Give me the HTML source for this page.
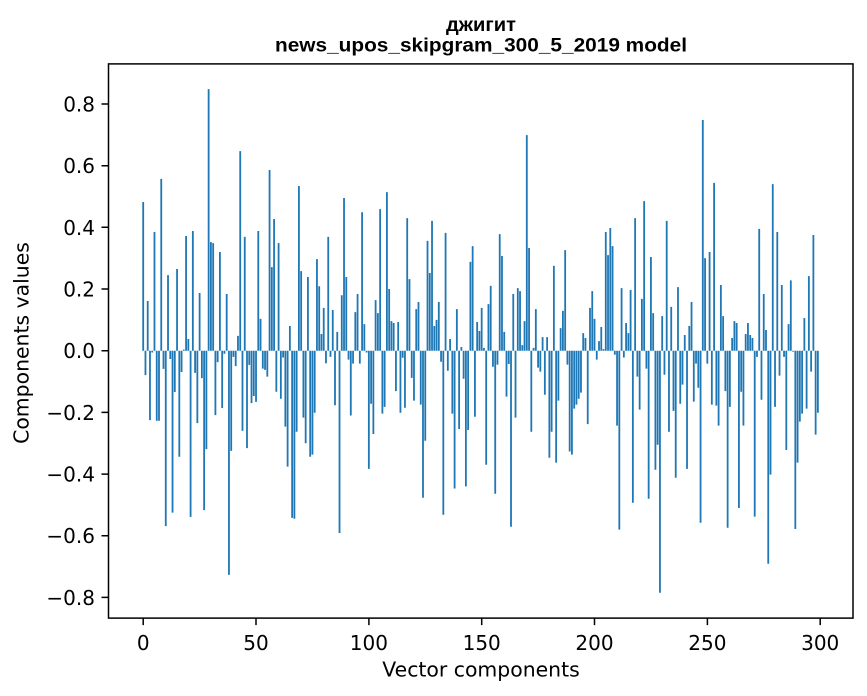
<!DOCTYPE html>
<html><head><meta charset="utf-8"><style>html,body{margin:0;padding:0;background:#fff}svg{display:block}</style></head>
<body>
<svg width="867" height="696" viewBox="0 0 867 696" xmlns="http://www.w3.org/2000/svg">
<rect width="867" height="696" fill="#fff"/>
<g transform="translate(143.2,350.7) scale(2.2565,-308.4)">
<path fill="none" stroke="#1f77b4" stroke-width="0.8" d="M0 0V0.482M1 0V-0.079M2 0V0.161M3 0V-0.225M4 0V-0.006M5 0V0.385M6 0V-0.227M7 0V-0.227M8 0V0.557M9 0V-0.059M10 0V-0.569M11 0V0.245M12 0V-0.027M13 0V-0.525M14 0V-0.134M15 0V0.265M16 0V-0.344M17 0V-0.069M18 0V0.004M19 0V0.372M20 0V0.038M21 0V-0.539M22 0V0.388M23 0V-0.072M24 0V-0.235M25 0V0.187M26 0V-0.089M27 0V-0.517M28 0V-0.319M29 0V0.848M30 0V0.352M31 0V0.349M32 0V-0.209M33 0V-0.037M34 0V0.32M35 0V-0.186M36 0V-0.01M37 0V0.184M38 0V-0.727M39 0V-0.325M40 0V-0.02M41 0V-0.05M42 0V0.048M43 0V0.647M44 0V-0.26M45 0V0.369M46 0V-0.316M47 0V-0.046M48 0V-0.17M49 0V-0.147M50 0V-0.166M51 0V0.388M52 0V0.103M53 0V-0.058M54 0V-0.062M55 0V-0.084M56 0V0.586M57 0V0.271M58 0V0.427M59 0V-0.133M60 0V0.349M61 0V-0.156M62 0V-0.022M63 0V-0.246M64 0V-0.376M65 0V0.08M66 0V-0.542M67 0V-0.545M68 0V-0.263M69 0V0.534M70 0V0.258M71 0V-0.217M72 0V-0.3M73 0V0.239M74 0V-0.344M75 0V-0.337M76 0V-0.201M77 0V0.297M78 0V0.209M79 0V0.054M80 0V0.139M81 0V-0.041M82 0V0.369M83 0V-0.02M84 0V0.132M85 0V-0.177M86 0V0.061M87 0V-0.591M88 0V0.18M89 0V0.495M90 0V0.239M91 0V-0.029M92 0V-0.21M93 0V-0.042M94 0V0.125M95 0V0.184M96 0V-0.042M97 0V0.449M98 0V0.086M99 0V-0.006M100 0V-0.383M101 0V-0.172M102 0V-0.27M103 0V0.164M104 0V0.122M105 0V0.459M106 0V-0.204M107 0V-0.182M108 0V0.514M109 0V0.2M110 0V0.096M111 0V0.09M112 0V-0.131M113 0V0.093M114 0V-0.201M115 0V-0.023M116 0V-0.185M117 0V0.43M118 0V0.232M119 0V-0.088M120 0V-0.162M121 0V0.135M122 0V0.158M123 0V-0.175M124 0V-0.477M125 0V-0.292M126 0V0.356M127 0V0.252M128 0V0.421M129 0V0.08M130 0V0.1M131 0V0.158M132 0V-0.036M133 0V-0.532M134 0V0.382M135 0V-0.065M136 0V0.038M137 0V-0.204M138 0V-0.447M139 0V0.135M140 0V-0.254M141 0V0.012M142 0V-0.091M143 0V-0.44M144 0V-0.257M145 0V0.288M146 0V0.339M147 0V-0.214M148 0V0.093M149 0V0.064M150 0V0.139M151 0V0.009M152 0V-0.37M153 0V0.151M154 0V0.21M155 0V-0.052M156 0V-0.464M157 0V-0.045M158 0V0.378M159 0V0.307M160 0V0.061M161 0V-0.149M162 0V-0.043M163 0V-0.571M164 0V0.184M165 0V-0.217M166 0V0.203M167 0V0.193M168 0V0.018M169 0V0.096M170 0V0.699M171 0V0.333M172 0V-0.263M173 0V0.009M174 0V0.135M175 0V-0.055M176 0V-0.068M177 0V0.044M178 0V-0.143M179 0V0.044M180 0V-0.347M181 0V-0.263M182 0V0.275M183 0V-0.363M184 0V-0.162M185 0V0.073M186 0V0.129M187 0V0.326M188 0V-0.045M189 0V-0.327M190 0V-0.337M191 0V-0.188M192 0V-0.175M193 0V-0.156M194 0V-0.136M195 0V0.057M196 0V0.041M197 0V-0.238M198 0V0.139M199 0V0.193M200 0V0.103M201 0V-0.029M202 0V0.031M203 0V0.077M204 0V0.005M205 0V0.385M206 0V0.31M207 0V0.398M208 0V0.339M209 0V-0.013M210 0V-0.243M211 0V-0.58M212 0V0.203M213 0V-0.022M214 0V0.09M215 0V0.057M216 0V0.197M217 0V-0.493M218 0V0.43M219 0V-0.084M220 0V-0.191M221 0V0.168M222 0V0.485M223 0V-0.058M224 0V-0.48M225 0V0.304M226 0V0.122M227 0V-0.386M228 0V-0.305M229 0V-0.785M230 0V0.112M231 0V-0.078M232 0V0.421M233 0V-0.263M234 0V0.142M235 0V-0.195M236 0V-0.412M237 0V0.206M238 0V-0.172M239 0V-0.11M240 0V0.051M241 0V-0.383M242 0V0.08M243 0V0.158M244 0V-0.165M245 0V-0.042M246 0V-0.12M247 0V-0.558M248 0V0.748M249 0V0.3M250 0V-0.042M251 0V0.32M252 0V-0.175M253 0V0.544M254 0V-0.178M255 0V-0.243M256 0V0.213M257 0V0.112M258 0V-0.131M259 0V-0.574M260 0V-0.182M261 0V0.041M262 0V0.096M263 0V0.09M264 0V-0.51M265 0V-0.133M266 0V-0.243M267 0V0.054M268 0V0.09M269 0V0.051M270 0V0.041M271 0V-0.538M272 0V-0.02M273 0V0.395M274 0V-0.159M275 0V0.184M276 0V0.067M277 0V-0.691M278 0V-0.402M279 0V0.54M280 0V-0.182M281 0V0.385M282 0V-0.081M283 0V0.213M284 0V-0.02M285 0V-0.322M286 0V0.086M287 0V0.228M288 0V-0.003M289 0V-0.578M290 0V-0.363M291 0V-0.23M292 0V-0.204M293 0V0.106M294 0V-0.188M295 0V0.242M296 0V-0.068M297 0V0.375M298 0V-0.272M299 0V-0.201"/>
</g>
<rect x="108.5" y="63.9" width="744.5" height="554.2" fill="none" stroke="#000" stroke-width="1.5"/>
<g stroke="#000" stroke-width="1.5">
<path d="M101.5 104H108.5M101.5 165.7H108.5M101.5 227.3H108.5M101.5 289H108.5M101.5 350.7H108.5M101.5 412.4H108.5M101.5 474.1H108.5M101.5 535.7H108.5M101.5 597.4H108.5"/>
<path d="M143.2 618.1V625.1M256 618.1V625.1M368.9 618.1V625.1M481.7 618.1V625.1M594.5 618.1V625.1M707.4 618.1V625.1M820.2 618.1V625.1"/>
</g>
<g font-family="'DejaVu Sans', 'Liberation Sans', sans-serif" font-size="20" fill="#000" text-anchor="end">
<text x="95" y="111.5">0.8</text>
<text x="95" y="173.2">0.6</text>
<text x="95" y="234.8">0.4</text>
<text x="95" y="296.5">0.2</text>
<text x="95" y="358.2">0.0</text>
<text x="95" y="419.9">−0.2</text>
<text x="95" y="481.6">−0.4</text>
<text x="95" y="543.2">−0.6</text>
<text x="95" y="604.9">−0.8</text>
</g>
<g font-family="'DejaVu Sans', 'Liberation Sans', sans-serif" font-size="20" fill="#000" text-anchor="middle">
<text x="143.2" y="650">0</text>
<text x="256" y="650">50</text>
<text x="368.9" y="650">100</text>
<text x="481.7" y="650">150</text>
<text x="594.5" y="650">200</text>
<text x="707.4" y="650">250</text>
<text x="820.2" y="650">300</text>
</g>
<text x="481" y="676.5" font-family="'DejaVu Sans', 'Liberation Sans', sans-serif" font-size="20.4" text-anchor="middle" fill="#000">Vector components</text>
<text transform="translate(28.5,343) rotate(-90)" x="0" y="0" font-family="'DejaVu Sans', 'Liberation Sans', sans-serif" font-size="20.4" text-anchor="middle" fill="#000">Components values</text>
<text x="481" y="31" font-family="'Liberation Sans', 'DejaVu Sans', sans-serif" font-weight="bold" font-size="19.5" text-anchor="middle" fill="#000" textLength="70" lengthAdjust="spacingAndGlyphs">джигит</text>
<text x="481" y="51.5" font-family="'Liberation Sans', 'DejaVu Sans', sans-serif" font-weight="bold" font-size="19.5" text-anchor="middle" fill="#000" textLength="412" lengthAdjust="spacingAndGlyphs">news_upos_skipgram_300_5_2019 model</text>
</svg>
</body></html>
